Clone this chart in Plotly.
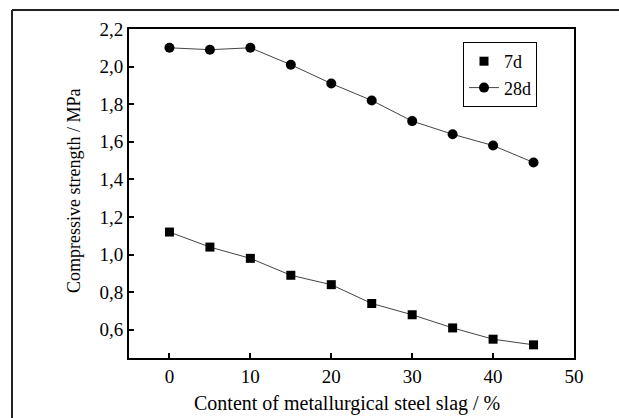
import plotly.graph_objects as go

slag_content = [0, 5, 10, 15, 20, 25, 30, 35, 40, 45]
strength_7d = [1.12, 1.04, 0.98, 0.89, 0.84, 0.74, 0.68, 0.61, 0.55, 0.52]
strength_28d = [2.10, 2.09, 2.10, 2.01, 1.91, 1.82, 1.71, 1.64, 1.58, 1.49]
x_ticks = [0, 10, 20, 30, 40, 50]
y_ticks = [0.6, 0.8, 1.0, 1.2, 1.4, 1.6, 1.8, 2.0, 2.2]
x_title = "Content of metallurgical steel slag / %"
y_title = "Compressive strength / MPa"

FONT = "Liberation Serif"
line_col = "#444444"

fig = go.Figure()
fig.add_trace(go.Scatter(x=slag_content, y=strength_7d, mode="lines",
                         line=dict(color=line_col, width=1), showlegend=False,
                         hoverinfo="skip"))
fig.add_trace(go.Scatter(x=slag_content, y=strength_7d, mode="markers", name="7d",
                         marker=dict(symbol="square", size=9, color="black")))
fig.add_trace(go.Scatter(x=slag_content, y=strength_28d, mode="lines+markers", name="28d",
                         line=dict(color=line_col, width=1),
                         marker=dict(symbol="circle", size=10, color="black")))

W, H = 619, 418
L, R, T, B = 129, 45, 29, 60
pw, ph = W - L - R, H - T - B

def px_x(px):
    return (px - L) / pw

def px_y(py):
    return (H - B - py) / ph

fig.update_layout(
    width=W, height=H,
    margin=dict(l=L, r=R, t=T, b=B, autoexpand=False),
    paper_bgcolor="white", plot_bgcolor="white",
    separators=",.",
    font=dict(family=FONT, size=19, color="black"),
    showlegend=True,
    legend=dict(x=px_x(463), y=px_y(42), xanchor="left", yanchor="top",
                bordercolor="black", borderwidth=1, bgcolor="white",
                font=dict(family=FONT, size=18), tracegroupgap=0,
                itemwidth=30),
    xaxis=dict(range=[-5, 50], tickvals=x_ticks, ticks="inside", ticklen=5,
               tickwidth=1.5, tickcolor="black", showline=True, linecolor="black",
               linewidth=2, mirror=True, showgrid=False, zeroline=False,
               tickfont=dict(family=FONT, size=19)),
    yaxis=dict(range=[0.45, 2.2], tickvals=y_ticks, tickformat=".1f", ticks="inside",
               ticklen=5, tickwidth=1.5, tickcolor="black", showline=True,
               linecolor="black", linewidth=2, mirror=True, showgrid=False,
               zeroline=False, tickfont=dict(family=FONT, size=19)),
    annotations=[
        dict(text=x_title, xref="paper", yref="paper", x=px_x(347), y=px_y(403),
             xanchor="center", yanchor="middle", showarrow=False,
             font=dict(family=FONT, size=20)),
        dict(text=y_title, xref="paper", yref="paper", x=px_x(74), y=px_y(191),
             xanchor="center", yanchor="middle", showarrow=False, textangle=-90,
             font=dict(family=FONT, size=18)),
    ],
)

fig.add_shape(type="line", xref="paper", yref="paper",
              x0=px_x(12), x1=px_x(12), y0=px_y(10), y1=px_y(430),
              line=dict(color="#222222", width=2))
fig.add_shape(type="line", xref="paper", yref="paper",
              x0=px_x(12), x1=px_x(640), y0=px_y(10), y1=px_y(10),
              line=dict(color="#222222", width=2))

fig.write_html("out.html", config={"displayModeBar": False},
               post_script="document.body.style.margin='0';document.body.style.padding='0';")
